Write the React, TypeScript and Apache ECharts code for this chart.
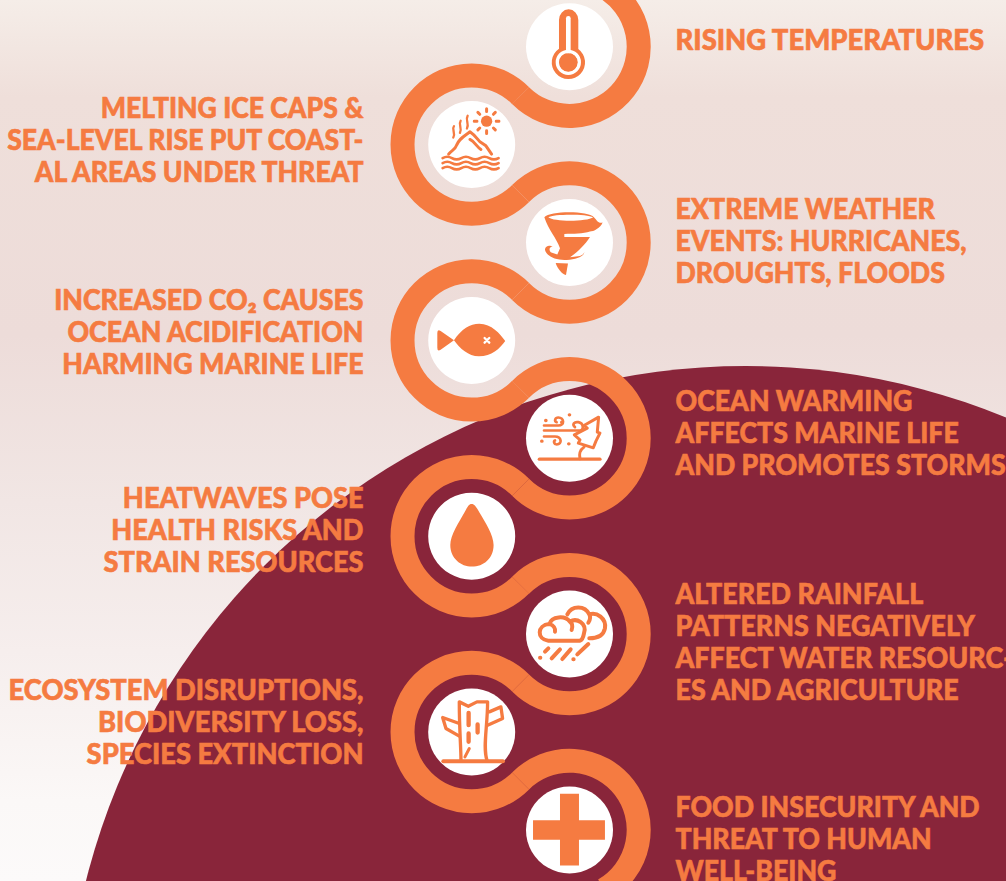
import React, { useEffect, useRef } from "react";
import * as echarts from "echarts";

const ORANGE = "#f57b41";
const WINE = "#89253a";
const WHITE = "#ffffff";

// Stops along the winding ribbon: [column, row]. Column 1 sits on the right.
const stops: [number, number][] = [
  [1, 0], [0, 1], [1, 2], [0, 3], [1, 4], [0, 5], [1, 6], [0, 7], [1, 8],
];

const rightLabels = [
  "RISING TEMPERATURES",
  "EXTREME WEATHER\nEVENTS: HURRICANES,\nDROUGHTS, FLOODS",
  "OCEAN WARMING\nAFFECTS MARINE LIFE\nAND PROMOTES STORMS",
  "ALTERED RAINFALL\nPATTERNS NEGATIVELY\nAFFECT WATER RESOURC-\nES AND AGRICULTURE",
  "FOOD INSECURITY AND\nTHREAT TO HUMAN\nWELL-BEING",
];
const rightLabelCenters = [39, 240, 432, 641, 838];
const rightLabelSqueeze = [0.98, 0.955, 0.955, 0.96, 0.955];
const leftLabels = [
  "MELTING ICE CAPS &\nSEA-LEVEL RISE PUT COAST-\nAL AREAS UNDER THREAT",
  "INCREASED CO₂ CAUSES\nOCEAN ACIDIFICATION\nHARMING MARINE LIFE",
  "HEATWAVES POSE\nHEALTH RISKS AND\nSTRAIN RESOURCES",
  "ECOSYSTEM DISRUPTIONS,\nBIODIVERSITY LOSS,\nSPECIES EXTINCTION",
];
const leftLabelCenters = [139, 331, 529, 721];
const leftLabelSqueeze = [0.95, 0.955, 0.97, 0.975];

type Layer = { d: string; color: string; fill?: boolean; lw?: number };
type Icon = { origin: [number, number]; layers: Layer[] };

const rays = (cx: number, cy: number, r0: number, r1: number, n: number) => {
  const out: string[] = [];
  for (let k = 0; k < n; k++) {
    const a = (k * 2 * Math.PI) / n;
    out.push(
      `M${cx + r0 * Math.cos(a)},${cy + r0 * Math.sin(a)}L${cx + r1 * Math.cos(a)},${cy + r1 * Math.sin(a)}`
    );
  }
  return out.join("");
};
const disc = (cx: number, cy: number, r: number) =>
  `M${cx - r},${cy}A${r},${r} 0 1 1 ${cx + r},${cy}A${r},${r} 0 1 1 ${cx - r},${cy}Z`;
const wave = (y: number) =>
  `M188,${y}Q202,${y - 8} 216,${y}T244,${y}T272,${y}T300,${y}T328,${y}T356,${y}`;

const icons: Icon[] = [
  {
    origin: [568, 140],
    layers: [
      { fill: true, color: ORANGE, d: "M537,60A29,32 0 0 1 595,60L595,147A50,50 0 1 1 537,146Z" },
      { color: WHITE, lw: 10, d: disc(565, 187, 33) },
      { color: WHITE, lw: 14, d: "M565,55V155" },
      { fill: true, color: ORANGE, d: disc(565, 187, 27) },
    ],
  },
  {
    origin: [275, 433],
    layers: [
      { fill: true, color: ORANGE, d: disc(320, 363, 17) },
      { color: ORANGE, lw: 9, d: rays(320, 363, 29, 37, 8) },
      { color: ORANGE, lw: 7, d: "M222,378C214,388 228,398 220,412M242,362C234,374 248,384 240,398M263,347C255,360 269,370 261,385" },
      { color: ORANGE, lw: 9, d: "M206,462C215,450 225,450 230,435C238,415 250,410 270,395C285,405 295,420 300,425L318,437L335,462M270,418C285,425 290,440 303,448" },
      { color: ORANGE, lw: 8, d: wave(474) + wave(489) + wave(504) },
    ],
  },
  {
    origin: [568, 727],
    layers: [
      { fill: true, color: ORANGE, d: "M493,652C510,632 625,632 642,652C650,660 655,672 668,668C662,685 640,695 630,695C610,702 580,702 553,702L553,711L630,711C615,735 590,758 570,772L600,768C608,766 612,760 613,756C612,770 590,778 560,780C530,782 500,770 495,750C495,738 510,735 518,740C508,740 505,752 514,758L532,764L540,745C530,715 505,690 493,652ZM505,652C520,666 620,666 640,652C620,642 520,642 505,652Z" },
      { fill: true, color: ORANGE, d: "M527,789L564,791L558,825C545,822 532,805 527,789Z" },
    ],
  },
  {
    origin: [275, 150],
    layers: [
      { fill: true, color: ORANGE, d: "M222,150C245,115 270,100 298,100C335,100 360,130 376,152C360,175 335,198 297,198C265,198 240,175 222,150ZM222,150L182,122Q172,115 172,128L172,172Q172,185 182,178Z" },
      { color: WHITE, lw: 7, d: "M314,143L328,157M328,143L314,157" },
    ],
  },
  {
    origin: [568, 443],
    layers: [
      { color: ORANGE, lw: 10, d: "M478,506H660" },
      { color: ORANGE, lw: 9, d: "M612,470C598,480 597,490 600,505" },
      { color: ORANGE, lw: 9, d: "M656,380L612,405L622,413L583,433L600,448L595,458L640,472L648,452L660,428L652,425Z" },
      { color: ORANGE, lw: 8, d: "M492,405H535C555,405 553,381 535,381C525,381 522,392 530,395M492,420H600C612,420 612,398 595,395C583,393 575,402 585,410M492,438H525C545,438 548,462 530,462C522,462 520,452 525,450" },
      { color: ORANGE, lw: 10, d: "M497,390h1M568,373h1M485,452h1M566,460h1M545,395h1" },
    ],
  },
  {
    origin: [272, 738],
    layers: [
      { fill: true, color: ORANGE, d: "M272,642C262,642 258,655 250,668C235,695 208,735 208,765C208,805 240,830 273,830C308,830 338,805 338,765C338,735 312,695 296,668C288,655 282,642 272,642Z" },
    ],
  },
  {
    origin: [568, 162],
    layers: [
      { color: ORANGE, lw: 12, d: "M600,182H505C470,178 470,135 508,132C515,108 555,105 570,125C590,112 622,130 612,160C610,172 605,180 600,182M570,125C578,130 578,140 575,150M510,132C520,135 527,145 525,155" },
      { color: ORANGE, lw: 12, d: "M562,103C575,75 615,75 628,103C650,95 680,115 675,145C670,170 650,175 628,175M628,103C632,110 630,120 625,128" },
      { color: ORANGE, lw: 12, d: "M480,233h1M515,235L540,208M547,237L572,208M580,238h1M592,223L625,192M495,215L505,205" },
    ],
  },
  {
    origin: [272, 455],
    layers: [
      { color: ORANGE, lw: 12, d: "M187,543H366" },
      { color: ORANGE, lw: 10, d: "M240,540C240,500 235,450 235,365L262,378L288,365L320,365C320,440 305,500 318,540" },
      { color: ORANGE, lw: 10, d: "M235,468L195,445L185,412L235,430M320,435L365,415L360,380L325,395" },
      { color: ORANGE, lw: 13, d: "M263,398V435M290,433V457M263,460V485" },
      { color: ORANGE, lw: 9, d: "M265,505L252,530" },
    ],
  },
  {
    origin: [568, 750],
    layers: [
      { fill: true, color: ORANGE, d: "M540,642H597V722H675V780H597V858H540V780H459V722H540Z" },
    ],
  },
];

icons.forEach((icon, i) =>
  icon.layers.forEach((layer, j) =>
    echarts.graphic.registerShape(`icon_${i}_${j}`, echarts.graphic.extendPath(layer.d, {}) as any)
  )
);

const labelStyle = {
  fill: ORANGE,
  stroke: ORANGE,
  lineWidth: 0.6,
  fontFamily: "Lato",
  fontWeight: 900,
  fontSize: 28,
  lineHeight: 32,
  verticalAlign: "middle",
};

export default function App() {
  const ref = useRef<HTMLDivElement>(null);
  useEffect(() => {
    const chart = echarts.init(ref.current!, undefined, { renderer: "svg" });
    const renderItem = (params: any, api: any) => {
      const col = api.value(0);
      const row = api.value(1);
      const [cx, cy] = api.coord([col, row]);
      const size = api.size([1, 1]);
      const r = Math.hypot(size[0], size[1]) / 2;
      const isRight = col === 1;
      const icon = icons[params.dataIndex];
      const isFirst = params.dataIndex === 0;
      const isLast = params.dataIndex === stops.length - 1;
      const children: any[] = [
        {
          type: "arc",
          shape: {
            cx,
            cy,
            r,
            startAngle: isRight ? (isFirst ? -Math.PI / 3 : (-3 * Math.PI) / 4) : -Math.PI / 4,
            endAngle: isRight ? (isLast ? Math.PI / 3 : (3 * Math.PI) / 4) : Math.PI / 4,
            clockwise: isRight,
          },
          style: { fill: "none", stroke: ORANGE, lineWidth: 24, lineCap: "butt" },
        },
        { type: "circle", shape: { cx, cy, r: 43.5 }, style: { fill: WHITE } },
      ];
      icon.layers.forEach((layer, j) => {
        children.push({
          type: `icon_${params.dataIndex}_${j}`,
          x: cx - icon.origin[0] / 3,
          y: cy - icon.origin[1] / 3,
          scaleX: 1 / 3,
          scaleY: 1 / 3,
          style: layer.fill
            ? { fill: layer.color, stroke: "none" }
            : { fill: "none", stroke: layer.color, lineWidth: layer.lw, lineCap: "round", lineJoin: "round" },
        });
      });
      return { type: "group", children };
    };
    chart.setOption({
      animation: false,
      grid: { left: 0, right: 0, top: 0, bottom: 0 },
      xAxis: { type: "value", min: -4.823, max: 5.463, show: false },
      yAxis: { type: "value", min: -0.477, max: 8.522, inverse: true, show: false },
      graphic: [
        {
          type: "rect",
          shape: { x: 0, y: 0, width: 1006, height: 881 },
          style: {
            fill: new echarts.graphic.LinearGradient(0, 0, 0, 1, [
              { offset: 0, color: "#f5ede8" },
              { offset: 0.11, color: "#efdfda" },
              { offset: 0.38, color: "#eddcd9" },
              { offset: 0.57, color: "#f1e6e4" },
              { offset: 0.74, color: "#f6eeed" },
              { offset: 0.91, color: "#fbf8f7" },
              { offset: 1, color: "#fcfafa" },
            ]),
          },
        },
        { type: "circle", shape: { cx: 746, cy: 1046.5, r: 680.5 }, style: { fill: WINE } },
        ...rightLabels.map((text, i) => ({
          type: "text",
          x: 675.5,
          y: rightLabelCenters[i],
          scaleX: rightLabelSqueeze[i],
          style: { ...labelStyle, text, align: "left" },
        })),
        ...leftLabels.map((text, i) => ({
          type: "text",
          x: 363.5,
          y: leftLabelCenters[i],
          scaleX: leftLabelSqueeze[i],
          style: { ...labelStyle, text, align: "right" },
        })),
      ],
      series: [
        {
          type: "custom",
          coordinateSystem: "cartesian2d",
          renderItem,
          data: stops,
          clip: false,
          silent: true,
        },
      ],
    });
    return () => chart.dispose();
  }, []);
  return (
    <div
      ref={ref}
      style={{ position: "absolute", left: 0, top: 0, width: 1006, height: 881, overflow: "hidden" }}
    />
  );
}
